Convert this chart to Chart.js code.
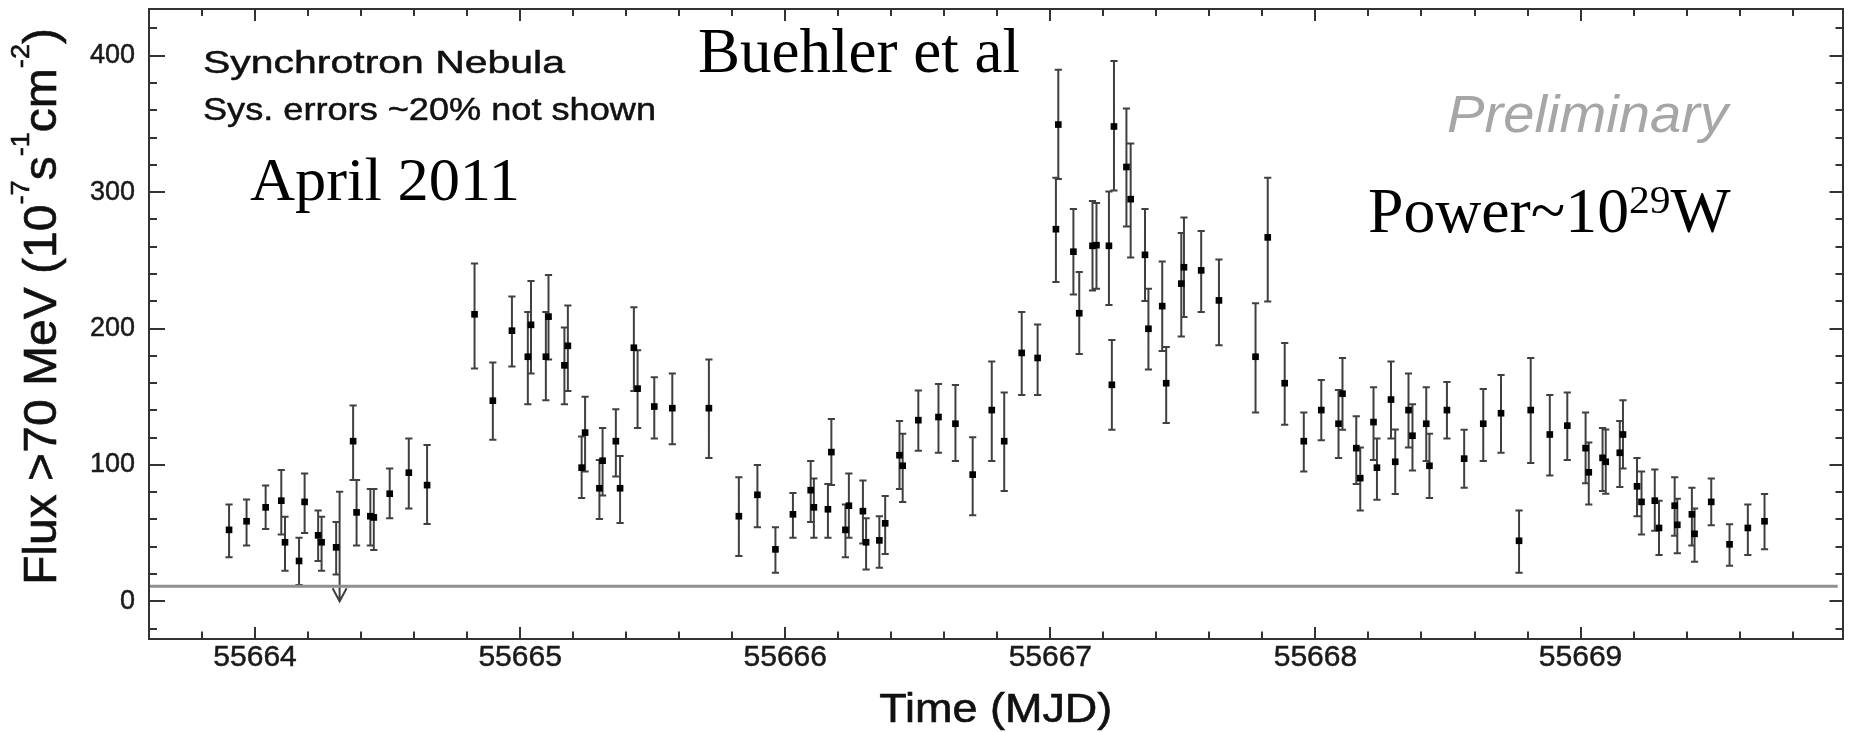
<!DOCTYPE html>
<html><head><meta charset="utf-8">
<script src="https://cdn.jsdelivr.net/npm/chart.js@4.4.1/dist/chart.umd.min.js"></script>
<style>html,body{margin:0;padding:0;background:#fff;overflow:hidden}canvas{display:block}</style>
</head><body>
<canvas id="c" width="1855" height="732"></canvas>
<script>
// ---- data ----
const mjd = [55663.902,55663.968,55664.040,55664.099,55664.113,55664.166,55664.187,55664.238,55664.251,55664.306,
55664.370,55664.383,55664.435,55664.448,55664.508,55664.580,55664.649,55664.828,55664.897,55664.969,
55665.029,55665.041,55665.097,55665.107,55665.167,55665.180,55665.232,55665.245,55665.299,55665.311,
55665.361,55665.377,55665.429,55665.443,55665.506,55665.574,55665.712,55665.825,55665.895,55665.963,
55666.029,55666.096,55666.108,55666.161,55666.174,55666.227,55666.240,55666.293,55666.305,55666.355,
55666.377,55666.431,55666.443,55666.502,55666.578,55666.642,55666.707,55666.779,55666.826,55666.892,
55666.952,55667.021,55667.030,55667.087,55667.109,55667.159,55667.174,55667.221,55667.232,55667.240,
55667.287,55667.303,55667.357,55667.370,55667.422,55667.437,55667.494,55667.504,55667.569,55667.636,
55667.774,55667.820,55667.884,55667.956,55668.022,55668.087,55668.102,55668.154,55668.169,55668.219,
55668.232,55668.285,55668.301,55668.351,55668.366,55668.418,55668.430,55668.496,55668.561,55668.633,
55668.700,55668.768,55668.812,55668.884,55668.950,55669.019,55669.031,55669.083,55669.095,55669.148,
55669.160,55669.213,55669.230,55669.280,55669.296,55669.355,55669.365,55669.420,55669.430,55669.493,
55669.562,55669.631,55669.694];
const flux = [52.4,58.7,68.9,73.8,43.3,29.6,72.9,48.4,43.3,39.6,
117.4,65.2,62.4,61.5,78.9,94.3,85.2,210.4,147.1,198.4,
179.3,202.7,179.3,208.7,173.0,187.3,98.0,123.7,82.9,103.1,
117.4,82.9,185.9,155.9,142.8,141.6,141.6,62.4,78.1,38.1,
63.8,81.5,68.9,67.5,109.4,52.4,70.1,66.1,43.3,44.7,
57.2,107.1,99.4,132.8,135.1,130.2,92.9,140.2,117.4,182.1,
178.4,272.8,349.5,256.3,211.2,260.6,261.1,260.6,158.7,348.1,
318.4,294.8,254.0,199.8,216.4,159.9,232.9,244.9,242.6,220.6,
179.3,266.8,159.9,117.4,140.2,130.2,152.2,112.3,90.3,131.4,
98.0,147.9,102.3,140.2,121.4,130.2,99.4,140.2,104.6,130.2,
137.9,44.4,140.2,122.3,128.8,112.3,94.6,105.2,102.3,108.9,
122.3,84.3,72.9,73.8,53.8,70.1,56.1,63.8,49.5,72.9,
41.8,53.8,58.7];
const fluxLow = [32.4,41.0,53.0,49.0,22.4,12.0,50.1,29.6,22.4,19.6,
88.9,41.0,41.0,37.6,61.0,68.1,56.7,170.7,118.5,172.2,
144.5,167.0,147.4,177.3,144.5,154.2,75.8,95.2,60.4,77.5,
91.5,57.5,154.2,127.1,119.4,115.1,105.1,33.3,54.4,21.0,
46.7,58.1,46.7,46.7,85.2,32.4,46.7,42.4,23.3,24.7,
34.7,82.3,72.9,110.3,108.9,102.9,63.2,102.9,80.9,151.3,
151.3,234.0,309.6,224.9,181.3,227.8,229.2,217.2,125.7,301.1,
274.8,252.0,220.1,169.9,183.6,130.8,194.1,208.4,212.1,187.8,
138.5,219.8,129.4,95.2,118.0,105.1,125.7,86.0,66.6,103.7,
74.4,119.4,78.6,112.8,96.0,102.9,75.8,119.4,83.2,102.9,
108.9,21.0,101.4,92.3,103.7,86.6,70.9,80.9,78.9,83.8,
97.4,62.4,49.0,51.8,33.9,48.1,35.3,41.0,29.0,55.8,
26.1,33.9,38.1];
const fluxHigh = [70.9,74.6,84.9,96.3,62.1,46.7,93.7,66.6,62.1,58.1,
143.6,88.9,82.3,82.3,97.4,119.4,114.6,247.7,175.0,223.5,
212.1,234.9,212.1,239.2,200.7,216.9,120.8,149.9,103.7,127.1,
140.8,106.6,215.5,184.1,164.2,167.0,177.3,90.9,100.0,54.4,
79.5,102.9,90.0,86.0,133.7,70.9,93.7,88.6,60.9,62.4,
77.2,132.2,122.8,154.5,159.3,158.5,120.3,175.9,153.1,212.1,
203.0,310.5,389.7,287.6,241.5,293.4,292.0,300.5,191.5,396.0,
361.2,335.6,287.6,229.2,249.2,186.4,270.0,281.4,271.4,250.6,
218.6,310.5,189.3,138.5,162.2,155.0,178.4,135.7,112.8,157.0,
119.4,175.9,126.0,167.0,144.5,157.0,122.8,160.7,125.7,155.6,
165.9,66.6,178.4,151.3,153.1,138.5,116.5,127.1,126.0,132.2,
147.4,105.1,95.2,96.6,73.8,90.9,75.2,83.2,68.1,90.0,
56.6,70.9,78.6];
// upper limit
const ulMjd = [55664.319];
const ulFlux = [80.3];
// horizontal reference level
const levelMjd = [55663.6, 55669.97];
const levelFlux = [11, 11];
// tick labels
const xTicks = [55664, 55665, 55666, 55667, 55668, 55669];
const yTicks = [0, 100, 200, 300, 400];

const SANS = '"Liberation Sans", Arial, Helvetica, sans-serif';
const SERIF = '"Liberation Serif", "Times New Roman", serif';

function fitText(ctx, text, x, y, font, width, color, stroke) {
  ctx.save();
  ctx.font = font;
  const w = ctx.measureText(text).width;
  ctx.translate(x, y);
  ctx.scale(width / w, 1);
  ctx.fillStyle = color;
  ctx.textBaseline = 'alphabetic';
  ctx.textAlign = 'left';
  ctx.fillText(text, 0, 0);
  if (stroke) { ctx.strokeStyle = color; ctx.lineWidth = stroke; ctx.strokeText(text, 0, 0); }
  ctx.restore();
}

function drawRich(ctx, segs, x, y, rot, length, color, stroke) {
  // segs: [text, font, raise]
  ctx.save();
  ctx.translate(x, y);
  ctx.rotate(rot);
  let total = 0;
  for (const s of segs) { ctx.font = s[1]; total += ctx.measureText(s[0]).width; }
  ctx.scale(length / total, 1);
  ctx.fillStyle = color;
  ctx.strokeStyle = color;
  ctx.textBaseline = 'alphabetic';
  ctx.textAlign = 'left';
  let cx = 0;
  for (const s of segs) {
    ctx.font = s[1];
    ctx.fillText(s[0], cx, -s[2]);
    if (stroke) { ctx.lineWidth = stroke; ctx.strokeText(s[0], cx, -s[2]); }
    cx += ctx.measureText(s[0]).width;
  }
  ctx.restore();
}

const decor = {
  id: 'decor',
  beforeDatasetsDraw(chart) {
    const {ctx} = chart; const x = chart.scales.x, y = chart.scales.y;
    ctx.save();
    ctx.strokeStyle = '#404040'; ctx.lineWidth = 2;
    ctx.beginPath();
    for (let i = 0; i < mjd.length; i++) {
      const px = x.getPixelForValue(mjd[i]);
      const pl = y.getPixelForValue(fluxLow[i]), ph = y.getPixelForValue(fluxHigh[i]);
      ctx.moveTo(px, pl); ctx.lineTo(px, ph);
      ctx.moveTo(px - 3.6, pl); ctx.lineTo(px + 3.6, pl);
      ctx.moveTo(px - 3.6, ph); ctx.lineTo(px + 3.6, ph);
    }
    ctx.stroke();
    ctx.beginPath();
    for (let i = 0; i < ulMjd.length; i++) {
      const px = x.getPixelForValue(ulMjd[i]);
      const pt = y.getPixelForValue(ulFlux[i]);
      const pb = y.getPixelForValue(0);
      ctx.moveTo(px, pt); ctx.lineTo(px, pb);
      ctx.moveTo(px - 3.6, pt); ctx.lineTo(px + 3.6, pt);
      ctx.moveTo(px - 7, pb - 13); ctx.lineTo(px, pb); ctx.lineTo(px + 7, pb - 13);
    }
    ctx.stroke();
    ctx.restore();
  },
  afterDraw(chart) {
    const {ctx, chartArea} = chart; const x = chart.scales.x, y = chart.scales.y;
    const {left, right, top, bottom} = chartArea;
    ctx.save();
    ctx.strokeStyle = '#333'; ctx.lineWidth = 2;
    ctx.strokeRect(left, top, right - left, bottom - top);
    ctx.beginPath();
    for (let i = -5; i <= 35; i++) {
      const v = 55664 + i * 0.2;
      if (v <= x.min + 1e-6 || v >= x.max - 1e-6) continue;
      const major = (i % 5) === 0;
      const px = Math.round(x.getPixelForValue(v));
      ctx.moveTo(px, bottom); ctx.lineTo(px, bottom - (major ? 12 : 7.5));
      ctx.moveTo(px, top); ctx.lineTo(px, top + (major ? 12 : 7));
    }
    for (let v = -20; v <= 420; v += 20) {
      if (v <= y.min || v >= y.max) continue;
      const major = (v % 100) === 0;
      const py = Math.round(y.getPixelForValue(v));
      ctx.moveTo(left, py); ctx.lineTo(left + (major ? 16 : 8), py);
      ctx.moveTo(right, py); ctx.lineTo(right - (major ? 13.5 : 7.5), py);
    }
    ctx.stroke();
    ctx.restore();

    // annotations
    fitText(ctx, 'Synchrotron Nebula', 203, 72.7, '32px ' + SANS, 362, '#111', 0.5);
    fitText(ctx, 'Sys. errors ~20% not shown', 203, 120, '32px ' + SANS, 453, '#111', 0.5);
    fitText(ctx, 'April 2011', 250, 200, '62px ' + SERIF, 270, '#000');
    fitText(ctx, 'Buehler et al', 698, 71.7, '64px ' + SERIF, 322, '#000');
    fitText(ctx, 'Preliminary', 1447, 131.7, 'italic 51px ' + SANS, 281, '#a6a6a6');
    drawRich(ctx, [['Power~10', '63px ' + SERIF, 0], ['29', '41px ' + SERIF, 18.4], ['W', '63px ' + SERIF, 0]],
      1368, 231.7, 0, 362.6, '#000');
    // axis titles
    drawRich(ctx, [['Flux >70 MeV (10', '46px ' + SANS, 0], ['-7', '26px ' + SANS, 27], ['s', '46px ' + SANS, 0],
      ['-1', '26px ' + SANS, 27], ['cm', '46px ' + SANS, 0], ['-2', '26px ' + SANS, 27], [')', '46px ' + SANS, 0]],
      56, 585, -Math.PI / 2, 557, '#111', 0.6);
    fitText(ctx, 'Time (MJD)', 995.8 - 116.5, 721.7, '40px ' + SANS, 233, '#111', 0.6);
  }
};

new Chart(document.getElementById('c'), {
  type: 'scatter',
  data: {
    datasets: [
      {
        label: 'Flux',
        data: mjd.map((v, i) => ({x: v, y: flux[i]})),
        pointStyle: 'rect', pointRadius: 4.7, pointBackgroundColor: '#000', pointBorderWidth: 0,
        showLine: false
      },
      {
        type: 'line',
        label: 'level',
        data: levelMjd.map((v, i) => ({x: v, y: levelFlux[i]})),
        borderColor: '#8f8f8f', borderWidth: 3, pointRadius: 0, fill: false
      }
    ]
  },
  plugins: [decor],
  options: {
    responsive: false,
    animation: false,
    devicePixelRatio: 1,
    layout: {padding: {left: 0, right: 12, top: 9, bottom: 0}},
    plugins: {legend: {display: false}, tooltip: {enabled: false}},
    scales: {
      x: {
        type: 'linear', position: 'bottom', min: 55663.6, max: 55669.99,
        grid: {display: false, drawTicks: false}, border: {display: false},
        ticks: {font: {family: SANS, size: 30}, color: '#1a1a1a', padding: 1, maxRotation: 0, autoSkip: false,
          textStrokeColor: '#1a1a1a', textStrokeWidth: 0.5,
          callback: v => String(v)},
        afterBuildTicks: s => { s.ticks = xTicks.map(v => ({value: v})); },
        afterFit: s => { s.height = 93; s.paddingLeft = 0; s.paddingRight = 0; }
      },
      y: {
        type: 'linear', min: -27.6, max: 434.2,
        grid: {display: false, drawTicks: false}, border: {display: false},
        ticks: {font: {family: SANS, size: 27}, color: '#1a1a1a', padding: 14,
          textStrokeColor: '#1a1a1a', textStrokeWidth: 0.5,
          callback: v => String(v)},
        afterBuildTicks: s => { s.ticks = yTicks.map(v => ({value: v})); },
        afterFit: s => { s.width = 149; s.paddingTop = 0; s.paddingBottom = 0; }
      }
    }
  }
});
</script>
</body></html>
